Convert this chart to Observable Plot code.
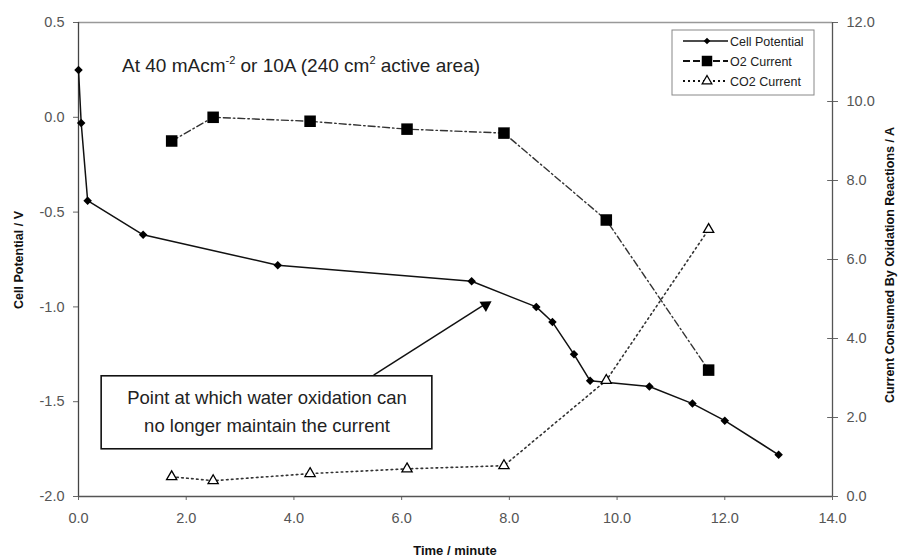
<!DOCTYPE html>
<html><head><meta charset="utf-8">
<script src="https://cdn.jsdelivr.net/npm/d3@7"></script>
<script src="https://cdn.jsdelivr.net/npm/@observablehq/plot@0.6"></script>
<style>
body{margin:0;background:#fff;}
#chart{position:relative;width:898px;height:560px;overflow:hidden;}
</style></head><body><div id="chart"></div>
<script>
// ---- data ----
const cellTime = [0, 0.05, 0.17, 1.2, 3.7, 7.3, 8.5, 8.8, 9.2, 9.5, 10.6, 11.4, 12.0, 13.0];
const cellPotential = [0.25, -0.03, -0.44, -0.62, -0.78, -0.865, -1.0, -1.08, -1.25, -1.39, -1.42, -1.51, -1.60, -1.78];
const currentTime = [1.73, 2.5, 4.3, 6.1, 7.9, 9.8, 11.7];
const o2Current = [9.0, 9.6, 9.5, 9.3, 9.2, 7.0, 3.2];
const co2Current = [0.5, 0.4, 0.58, 0.7, 0.78, 2.94, 6.76];
const xTicks = [0, 2, 4, 6, 8, 10, 12, 14];
const leftTicks = [0.5, 0, -0.5, -1, -1.5, -2];
const rightTicks = [0, 2, 4, 6, 8, 10, 12];
const seriesNames = ["Cell Potential", "O2 Current", "CO2 Current"];
const noteLines = ["Point at which water oxidation can", "no longer maintain the current"];
const noteBoxT = [0.43, 6.57];
const noteBoxV = [-1.366, -1.751];
const noteTextT = [3.5, 3.5];
const noteTextV = [-1.482, -1.628];
const arrowT = [5.48, 7.55];
const arrowV = [-1.36, -0.985];
const arrowHeadT = [7.56];
const arrowHeadV = [-0.99];

// right axis (0..12 A) mapped onto left axis (-2..0.5 V)
const toV = a => -2 + a * 2.5 / 12;
const fromV = v => (v + 2) * 12 / 2.5;

const cell = cellTime.map((t, i) => ({t, v: cellPotential[i]}));
const o2 = currentTime.map((t, i) => ({t, v: toV(o2Current[i])}));
const co2 = currentTime.map((t, i) => ({t, v: toV(co2Current[i])}));
const note = noteLines.map((s, i) => ({s, t: noteTextT[i], v: noteTextV[i]}));

const font = "'Liberation Sans', Arial, sans-serif";
const plot = Plot.plot({
  width: 898, height: 560,
  marginLeft: 78, marginRight: 66, marginTop: 22, marginBottom: 64,
  style: {fontFamily: font, fontSize: "14.5px", color: "#555", background: "#fff", overflow: "visible"},
  x: {type: "linear", domain: [0, 14]},
  y: {type: "linear", domain: [-2, 0.5]},
  marks: [
    Plot.axisX({ticks: xTicks, tickFormat: d => d.toFixed(1), tickSize: 4, tickPadding: 12, label: null, stroke: "#666", fill: "#555"}),
    Plot.axisY({anchor: "left", ticks: leftTicks, tickFormat: d => d.toFixed(1), tickSize: 5, tickPadding: 9, label: null, stroke: "#666", fill: "#555"}),
    Plot.axisY({anchor: "right", ticks: rightTicks.map(toV), tickFormat: d => fromV(d).toFixed(1), tickSize: 5, tickPadding: 9, label: null, stroke: "#666", fill: "#555"}),
    Plot.ruleY(rightTicks.map(toV), {x1: 13.91, x2: 14, stroke: "#666"}),
    Plot.ruleY([0.5], {stroke: "#999", strokeWidth: 1.5}),
    Plot.ruleX([0], {stroke: "#444", strokeWidth: 1.3}),
    Plot.ruleX([14], {stroke: "#555", strokeWidth: 1.3}),
    Plot.ruleY([-2], {stroke: "#555", strokeWidth: 1.5}),
    Plot.line(co2, {x: "t", y: "v", stroke: "#333", strokeWidth: 1.6, strokeDasharray: "1.6,3.4"}),
    Plot.line(o2, {x: "t", y: "v", stroke: "#333", strokeWidth: 1.4, strokeDasharray: "7,3,1.5,3"}),
    Plot.line(cell, {x: "t", y: "v", stroke: "#111", strokeWidth: 1.5}),
    Plot.dot(cell, {x: "t", y: "v", symbol: "square", rotate: 45, r: 3.4, fill: "#000", stroke: "none"}),
    Plot.dot(o2, {x: "t", y: "v", symbol: "square", r: 6.5, fill: "#000", stroke: "none"}),
    Plot.dot(co2, {x: "t", y: "v", symbol: "triangle", r: 3.8, fill: "#fff", stroke: "#000", strokeWidth: 1.3}),
    Plot.rect([0], {x1: noteBoxT[0], x2: noteBoxT[1], y1: noteBoxV[0], y2: noteBoxV[1], fill: "#fff", stroke: "#111", strokeWidth: 1.6}),
    Plot.text(note, {x: "t", y: "v", text: "s", fontSize: 18.5, fill: "#222", fontFamily: font}),
    Plot.link([0], {x1: arrowT[0], y1: arrowV[0], x2: arrowT[1], y2: arrowV[1], stroke: "#111", strokeWidth: 1.5}),
    Plot.dot([0], {x: arrowHeadT, y: arrowHeadV, symbol: "triangle", rotate: 57.6, r: 4.5, fill: "#000", stroke: "none"})
  ]
});
const host = document.getElementById("chart");
host.appendChild(plot);

const svg = d3.select(plot);
// axis titles
svg.append("text").attr("x", 455).attr("y", 555).attr("text-anchor", "middle")
  .attr("font-family", font).attr("font-weight", "bold").attr("font-size", 13).attr("fill", "#111").text("Time / minute");
svg.append("text").attr("transform", "translate(23,260) rotate(-90)").attr("text-anchor", "middle")
  .attr("font-family", font).attr("font-weight", "bold").attr("font-size", 12.5).attr("fill", "#111").text("Cell Potential / V");
svg.append("text").attr("transform", "translate(894,265) rotate(-90)").attr("text-anchor", "middle")
  .attr("font-family", font).attr("font-weight", "bold").attr("font-size", 12.5).attr("fill", "#111").text("Current Consumed By Oxidation Reactions / A");

// header annotation with superscripts
const h = svg.append("text").attr("x", 122).attr("y", 72).attr("text-anchor", "start").attr("font-family", font).attr("font-size", 19).attr("fill", "#222");
h.append("tspan").text("At 40 mAcm");
h.append("tspan").attr("dy", -8).attr("font-size", 11).text("-2");
h.append("tspan").attr("dy", 8).text(" or 10A (240 cm");
h.append("tspan").attr("dy", -8).attr("font-size", 11).text("2");
h.append("tspan").attr("dy", 8).text(" active area)");

// legend
const lg = svg.append("g").attr("transform", "translate(672,30)");
lg.append("rect").attr("width", 142).attr("height", 65).attr("fill", "#fff").attr("stroke", "#888");
const styles = [
  {dash: null, sym: d3.symbolSquare, size: 22, rot: 45, fill: "#000", stroke: "none"},
  {dash: "7,3", sym: d3.symbolSquare, size: 110, rot: 0, fill: "#000", stroke: "none"},
  {dash: "2,3", sym: d3.symbolTriangle, size: 40, rot: 0, fill: "#fff", stroke: "#000"}
];
seriesNames.forEach((name, i) => {
  const y = 11 + i * 20;
  const s = styles[i];
  lg.append("line").attr("x1", 11).attr("x2", 56).attr("y1", y).attr("y2", y)
    .attr("stroke", "#111").attr("stroke-width", i === 0 ? 1.5 : 2.2).attr("stroke-dasharray", s.dash);
  lg.append("path").attr("d", d3.symbol(s.sym, s.size)()).attr("transform", `translate(35,${y}) rotate(${s.rot})`)
    .attr("fill", s.fill).attr("stroke", s.stroke).attr("stroke-width", 1.3);
  lg.append("text").attr("x", 58).attr("y", y + 4.5).attr("text-anchor", "start").attr("font-family", font).attr("font-size", 12.5).attr("fill", "#222").text(name);
});
</script></body></html>
